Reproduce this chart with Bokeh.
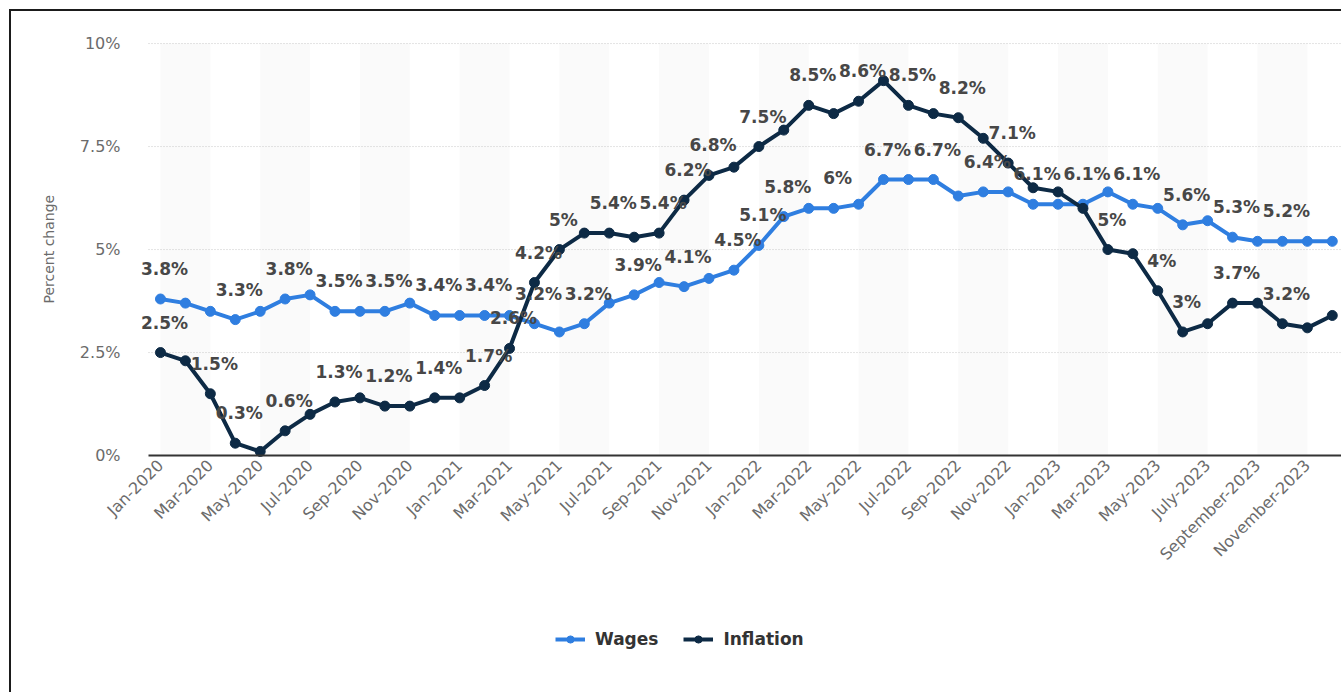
import math
from bokeh.plotting import figure
from bokeh.models import FixedTicker, Legend, LegendItem, ColumnDataSource, Title
from bokeh.core.properties import value
from bokeh.embed import file_html
from bokeh.resources import INLINE

months = [
    "Jan-2020", "Feb-2020", "Mar-2020", "Apr-2020", "May-2020", "Jun-2020",
    "Jul-2020", "Aug-2020", "Sep-2020", "Oct-2020", "Nov-2020", "Dec-2020",
    "Jan-2021", "Feb-2021", "Mar-2021", "Apr-2021", "May-2021", "Jun-2021",
    "Jul-2021", "Aug-2021", "Sep-2021", "Oct-2021", "Nov-2021", "Dec-2021",
    "Jan-2022", "Feb-2022", "Mar-2022", "Apr-2022", "May-2022", "Jun-2022",
    "Jul-2022", "Aug-2022", "Sep-2022", "Oct-2022", "Nov-2022", "Dec-2022",
    "Jan-2023", "Feb-2023", "Mar-2023", "Apr-2023", "May-2023", "June-2023",
    "July-2023", "August-2023", "September-2023", "October-2023", "November-2023", "December-2023",
]

wages = [3.8, 3.7, 3.5, 3.3, 3.5, 3.8, 3.9, 3.5, 3.5, 3.5, 3.7, 3.4,
         3.4, 3.4, 3.4, 3.2, 3.0, 3.2, 3.7, 3.9, 4.2, 4.1, 4.3, 4.5,
         5.1, 5.8, 6.0, 6.0, 6.1, 6.7, 6.7, 6.7, 6.3, 6.4, 6.4, 6.1,
         6.1, 6.1, 6.4, 6.1, 6.0, 5.6, 5.7, 5.3, 5.2, 5.2, 5.2, 5.2]

inflation = [2.5, 2.3, 1.5, 0.3, 0.1, 0.6, 1.0, 1.3, 1.4, 1.2, 1.2, 1.4,
             1.4, 1.7, 2.6, 4.2, 5.0, 5.4, 5.4, 5.3, 5.4, 6.2, 6.8, 7.0,
             7.5, 7.9, 8.5, 8.3, 8.6, 9.1, 8.5, 8.3, 8.2, 7.7, 7.1, 6.5,
             6.4, 6.0, 5.0, 4.9, 4.0, 3.0, 3.2, 3.7, 3.7, 3.2, 3.1, 3.4]

# which points carry a visible data label (the rest were hidden by overlap)
wage_labelled = [0, 3, 5, 7, 9, 11, 13, 15, 17, 19, 21, 23, 24, 25, 27, 29,
                 31, 33, 35, 37, 39, 41, 43, 45]
infl_labelled = [0, 2, 3, 5, 7, 9, 11, 13, 14, 15, 16, 18, 20, 21, 22, 24,
                 26, 28, 30, 32, 34, 38, 40, 41, 43, 45]

y_ticks = [0, 2.5, 5, 7.5, 10]
y_tick_labels = ["0%", "2.5%", "5%", "7.5%", "10%"]

WAGE_COLOR = "#2f7ee0"
INFL_COLOR = "#0d2a45"
LABEL_COLOR = "#474747"
AXIS_TEXT = "#6b6b6b"
FONT = "DejaVu Sans"

# layout constants (plot area starts half a month before the first point)
PLOT_X0 = -0.48
X_END = 47.45

x = list(range(len(months)))

# frame is wider/taller than the plot area so that rotated labels, the first
# data labels, the top tick label and the legend are not clipped; axes are pinned inside it
p = figure(width=1332, height=683, x_range=(-3.93, X_END), y_range=(-5.80, 10.56),
           output_backend="svg", toolbar_location=None,
           min_border_left=51, min_border_top=9, min_border_bottom=0,
           min_border_right=0)
p.styles = {"border-left": "2px solid #1b1b1b", "border-top": "2px solid #1b1b1b",
            "margin-left": "9px", "margin-top": "9px"}
p.outline_line_color = None
p.background_fill_color = "white"

# alternating bands (every other pair of months)
band_left = [x[i] for i in range(0, len(x), 4)]
band_right = [x[i] + 2 for i in range(0, len(x), 4)]
p.quad(left=band_left, right=band_right, bottom=y_ticks[0], top=y_ticks[-1],
       fill_color="#fafafa", line_color=None)

# dotted horizontal grid lines across the plot area only
grid_y = y_ticks[1:]
p.segment(x0=[PLOT_X0] * len(grid_y), x1=[X_END] * len(grid_y), y0=grid_y, y1=grid_y,
          line_color="#c8c8c8", line_dash="1 2", line_width=1)

# series
src_w = ColumnDataSource(dict(x=x, y=wages))
src_i = ColumnDataSource(dict(x=x, y=inflation))
wl = p.line("x", "y", source=src_w, line_color=WAGE_COLOR, line_width=4)
ws = p.scatter("x", "y", source=src_w, size=10, fill_color=WAGE_COLOR, line_color=WAGE_COLOR)
il = p.line("x", "y", source=src_i, line_color=INFL_COLOR, line_width=4)
isc = p.scatter("x", "y", source=src_i, size=10, fill_color=INFL_COLOR, line_color=INFL_COLOR)

# data labels
def lbl(v):
    return f"{v:g}%"

for series, idxs in ((wages, wage_labelled), (inflation, infl_labelled)):
    p.text(x=[x[i] for i in idxs], y=[series[i] for i in idxs],
           text=[lbl(series[i]) for i in idxs],
           x_offset=4, y_offset=-30,
           text_align="center", text_baseline="middle",
           text_font=value(FONT), text_font_style="bold",
           text_font_size="17px", text_color=LABEL_COLOR)

# axes
p.xgrid.grid_line_color = None
p.ygrid.grid_line_color = None

p.yaxis.fixed_location = PLOT_X0
p.yaxis.ticker = FixedTicker(ticks=y_ticks)
p.yaxis.major_label_overrides = dict(zip(y_ticks, y_tick_labels))
p.yaxis.axis_line_color = None
p.yaxis.major_tick_line_color = None
p.yaxis.major_tick_out = 0
p.yaxis.major_tick_in = 0
p.yaxis.minor_tick_line_color = None
p.yaxis.major_label_standoff = 28
p.yaxis.major_label_text_font = FONT
p.yaxis.major_label_text_font_size = "16px"
p.yaxis.major_label_text_color = AXIS_TEXT

ytitle = Title(text="Percent change", align="left", offset=391, standoff=12,
               text_font=FONT, text_font_size="14px", text_font_style="normal",
               text_color=AXIS_TEXT)
p.add_layout(ytitle, "left")

xt = x[::2]
p.xaxis.fixed_location = 0
p.xaxis.bounds = (PLOT_X0, X_END)
p.xaxis.ticker = FixedTicker(ticks=xt)
p.xaxis.major_label_overrides = {i: months[i] for i in xt}
p.xaxis.major_label_orientation = math.pi / 4
p.xaxis.axis_line_color = "#333333"
p.xaxis.axis_line_width = 2
p.xaxis.major_tick_line_color = None
p.xaxis.major_tick_out = 0
p.xaxis.major_tick_in = 0
p.xaxis.minor_tick_line_color = None
p.xaxis.major_label_standoff = 7
p.xaxis.major_label_text_font = FONT
p.xaxis.major_label_text_font_size = "16px"
p.xaxis.major_label_text_color = AXIS_TEXT

legend = Legend(items=[LegendItem(label="Wages", renderers=[wl, ws]),
                       LegendItem(label="Inflation", renderers=[il, isc])],
                location=(493, 45), orientation="horizontal",
                border_line_color=None, background_fill_alpha=0,
                label_text_font=FONT, label_text_font_style="bold",
                label_text_font_size="17px", label_text_color="#333333",
                glyph_width=30, glyph_height=18, label_standoff=10,
                spacing=25, padding=0, margin=0)
p.add_layout(legend)

open("out.html", "w").write(file_html(p, INLINE))
